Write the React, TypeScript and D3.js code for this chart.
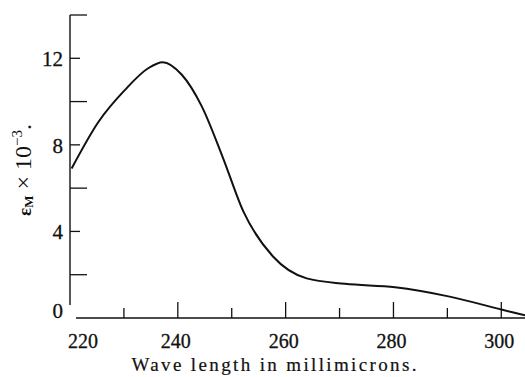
import React from "react";
import * as d3 from "d3";

// wavelength (mμ) vs molar extinction εM × 10⁻³
const waveLengths = [220.3, 225.3, 230.2, 234.5, 237.2, 240.7, 244.4, 248.3, 252.2, 257.7, 263.9, 271, 280.3, 290.2, 300.2, 304.4];
const extinction = [6.91, 9.07, 10.54, 11.54, 11.82, 11.25, 9.8, 7.45, 4.9, 2.83, 1.83, 1.58, 1.42, 1.0, 0.38, 0.12];

const xTicks = [230, 240, 250, 260, 270, 280, 290, 300];
const xLabels = [220, 240, 260, 280, 300];
const yTicks = [2, 4, 6, 8, 10, 12, 14];
const yLabels = [0, 4, 8, 12];

const W = 525;
const H = 377;
const font = "'Liberation Serif', 'Times New Roman', serif";

export default function App() {
  const x = d3.scaleLinear().domain([220, 304.4]).range([70, 525]);
  const y = d3.scaleLinear().domain([0, 14]).range([318, 15]);

  const line = d3.line<number>()
    .x((d, i) => x(waveLengths[i]))
    .y(d => y(d))
    .curve(d3.curveMonotoneX);

  const x0 = x(220);
  const y0 = y(0);

  return (
    <svg width={W} height={H} style={{ position: "absolute", left: 0, top: 0, background: "#fff" }}>
      {/* axes */}
      <line x1={x0} x2={x0} y1={y(14)} y2={y0 - 13} stroke="#111" strokeWidth={1.4} />
      <line x1={x0 + 6} x2={W} y1={y0} y2={y0} stroke="#111" strokeWidth={1.6} />

      {yTicks.map(t => (
        <line key={"yt" + t} x1={x0} x2={x0 + (t % 4 === 0 ? 10 : 17)} y1={y(t)} y2={y(t)} stroke="#111" strokeWidth={1.3} />
      ))}
      {xTicks.map(t => (
        <line key={"xt" + t} x1={x(t)} x2={x(t)} y1={y0} y2={y0 - (t % 20 === 0 ? 16 : 10)} stroke="#111" strokeWidth={1.3} />
      ))}

      {yLabels.map(t => (
        <text key={"yl" + t} x={63} y={y(t)} dy={t === 0 ? -7 : 1} textAnchor="end" dominantBaseline="central"
          fontFamily={font} fontSize={21} fill="#111" stroke="#111" strokeWidth={0.3}>{t}</text>
      ))}
      {xLabels.map((t, i) => (
        <text key={"xl" + t} x={x(t) - 2} y={348} textAnchor={i === 0 ? "start" : "middle"}
          fontFamily={font} fontSize={20} fill="#111" stroke="#111" strokeWidth={0.3}>{t}</text>
      ))}

      {/* curve */}
      <path d={line(extinction) ?? ""} fill="none" stroke="#111" strokeWidth={2} />

      {/* titles */}
      <text x={274} y={371} textAnchor="middle" fontFamily={font} fontSize={19} textLength={285}
        lengthAdjust="spacing" fill="#111" stroke="#111" strokeWidth={0.2}>Wave length in millimicrons.</text>

      <text transform="translate(31,170) rotate(-90)" textAnchor="middle" fontFamily={font} fontSize={24} fill="#111">
        <tspan fontWeight="bold" fontSize={19}>ε</tspan>
        <tspan fontWeight="bold" fontSize={13} dy={2}>M</tspan>
        <tspan dy={-2}> × 10</tspan>
        <tspan fontSize={15} dy={-9}>−3</tspan>
        <tspan dy={9}>.</tspan>
      </text>
    </svg>
  );
}
